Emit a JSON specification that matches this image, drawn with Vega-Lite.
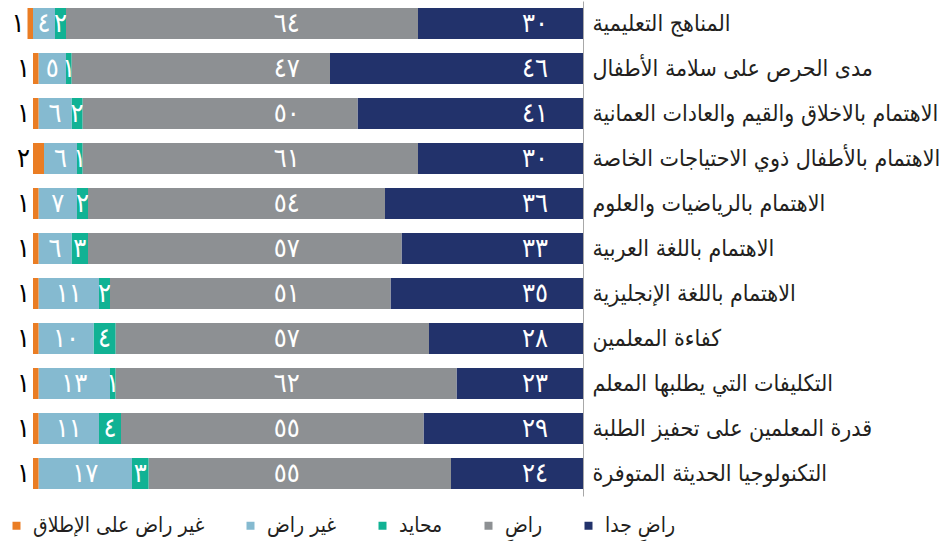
{
  "$schema": "https://vega.github.io/schema/vega-lite/v6.json",
  "width": 583,
  "height": 495,
  "autosize": "none",
  "padding": {"left": 0, "top": 1, "right": 364, "bottom": 45},
  "config": {
    "view": {"stroke": null},
    "font": "DejaVu Sans",
    "locale": {
      "number": {
        "decimal": "٫",
        "thousands": "٬",
        "grouping": [3],
        "currency": ["", ""],
        "numerals": ["٠", "١", "٢", "٣", "٤", "٥", "٦", "٧", "٨", "٩"]
      }
    }
  },
  "data": {
    "values": [
      {"cat": "المناهج التعليمية", "resp": "راضِ جدا", "rank": 0, "value": 30},
      {"cat": "المناهج التعليمية", "resp": "راضِ", "rank": 1, "value": 64},
      {"cat": "المناهج التعليمية", "resp": "محايد", "rank": 2, "value": 2},
      {"cat": "المناهج التعليمية", "resp": "غير راض", "rank": 3, "value": 4},
      {"cat": "المناهج التعليمية", "resp": "غير راض على الإطلاق", "rank": 4, "value": 1},
      {"cat": "مدى الحرص على سلامة الأطفال", "resp": "راضِ جدا", "rank": 0, "value": 46},
      {"cat": "مدى الحرص على سلامة الأطفال", "resp": "راضِ", "rank": 1, "value": 47},
      {"cat": "مدى الحرص على سلامة الأطفال", "resp": "محايد", "rank": 2, "value": 1},
      {"cat": "مدى الحرص على سلامة الأطفال", "resp": "غير راض", "rank": 3, "value": 5},
      {"cat": "مدى الحرص على سلامة الأطفال", "resp": "غير راض على الإطلاق", "rank": 4, "value": 1},
      {"cat": "الاهتمام بالاخلاق والقيم والعادات العمانية", "resp": "راضِ جدا", "rank": 0, "value": 41},
      {"cat": "الاهتمام بالاخلاق والقيم والعادات العمانية", "resp": "راضِ", "rank": 1, "value": 50},
      {"cat": "الاهتمام بالاخلاق والقيم والعادات العمانية", "resp": "محايد", "rank": 2, "value": 2},
      {"cat": "الاهتمام بالاخلاق والقيم والعادات العمانية", "resp": "غير راض", "rank": 3, "value": 6},
      {"cat": "الاهتمام بالاخلاق والقيم والعادات العمانية", "resp": "غير راض على الإطلاق", "rank": 4, "value": 1},
      {"cat": "الاهتمام بالأطفال ذوي الاحتياجات الخاصة", "resp": "راضِ جدا", "rank": 0, "value": 30},
      {"cat": "الاهتمام بالأطفال ذوي الاحتياجات الخاصة", "resp": "راضِ", "rank": 1, "value": 61},
      {"cat": "الاهتمام بالأطفال ذوي الاحتياجات الخاصة", "resp": "محايد", "rank": 2, "value": 1},
      {"cat": "الاهتمام بالأطفال ذوي الاحتياجات الخاصة", "resp": "غير راض", "rank": 3, "value": 6},
      {"cat": "الاهتمام بالأطفال ذوي الاحتياجات الخاصة", "resp": "غير راض على الإطلاق", "rank": 4, "value": 2},
      {"cat": "الاهتمام بالرياضيات والعلوم", "resp": "راضِ جدا", "rank": 0, "value": 36},
      {"cat": "الاهتمام بالرياضيات والعلوم", "resp": "راضِ", "rank": 1, "value": 54},
      {"cat": "الاهتمام بالرياضيات والعلوم", "resp": "محايد", "rank": 2, "value": 2},
      {"cat": "الاهتمام بالرياضيات والعلوم", "resp": "غير راض", "rank": 3, "value": 7},
      {"cat": "الاهتمام بالرياضيات والعلوم", "resp": "غير راض على الإطلاق", "rank": 4, "value": 1},
      {"cat": "الاهتمام باللغة العربية", "resp": "راضِ جدا", "rank": 0, "value": 33},
      {"cat": "الاهتمام باللغة العربية", "resp": "راضِ", "rank": 1, "value": 57},
      {"cat": "الاهتمام باللغة العربية", "resp": "محايد", "rank": 2, "value": 3},
      {"cat": "الاهتمام باللغة العربية", "resp": "غير راض", "rank": 3, "value": 6},
      {"cat": "الاهتمام باللغة العربية", "resp": "غير راض على الإطلاق", "rank": 4, "value": 1},
      {"cat": "الاهتمام باللغة الإنجليزية", "resp": "راضِ جدا", "rank": 0, "value": 35},
      {"cat": "الاهتمام باللغة الإنجليزية", "resp": "راضِ", "rank": 1, "value": 51},
      {"cat": "الاهتمام باللغة الإنجليزية", "resp": "محايد", "rank": 2, "value": 2},
      {"cat": "الاهتمام باللغة الإنجليزية", "resp": "غير راض", "rank": 3, "value": 11},
      {"cat": "الاهتمام باللغة الإنجليزية", "resp": "غير راض على الإطلاق", "rank": 4, "value": 1},
      {"cat": "كفاءة المعلمين", "resp": "راضِ جدا", "rank": 0, "value": 28},
      {"cat": "كفاءة المعلمين", "resp": "راضِ", "rank": 1, "value": 57},
      {"cat": "كفاءة المعلمين", "resp": "محايد", "rank": 2, "value": 4},
      {"cat": "كفاءة المعلمين", "resp": "غير راض", "rank": 3, "value": 10},
      {"cat": "كفاءة المعلمين", "resp": "غير راض على الإطلاق", "rank": 4, "value": 1},
      {"cat": "التكليفات التي يطلبها المعلم", "resp": "راضِ جدا", "rank": 0, "value": 23},
      {"cat": "التكليفات التي يطلبها المعلم", "resp": "راضِ", "rank": 1, "value": 62},
      {"cat": "التكليفات التي يطلبها المعلم", "resp": "محايد", "rank": 2, "value": 1},
      {"cat": "التكليفات التي يطلبها المعلم", "resp": "غير راض", "rank": 3, "value": 13},
      {"cat": "التكليفات التي يطلبها المعلم", "resp": "غير راض على الإطلاق", "rank": 4, "value": 1},
      {"cat": "قدرة المعلمين على تحفيز الطلبة", "resp": "راضِ جدا", "rank": 0, "value": 29},
      {"cat": "قدرة المعلمين على تحفيز الطلبة", "resp": "راضِ", "rank": 1, "value": 55},
      {"cat": "قدرة المعلمين على تحفيز الطلبة", "resp": "محايد", "rank": 2, "value": 4},
      {"cat": "قدرة المعلمين على تحفيز الطلبة", "resp": "غير راض", "rank": 3, "value": 11},
      {"cat": "قدرة المعلمين على تحفيز الطلبة", "resp": "غير راض على الإطلاق", "rank": 4, "value": 1},
      {"cat": "التكنولوجيا الحديثة المتوفرة", "resp": "راضِ جدا", "rank": 0, "value": 24},
      {"cat": "التكنولوجيا الحديثة المتوفرة", "resp": "راضِ", "rank": 1, "value": 55},
      {"cat": "التكنولوجيا الحديثة المتوفرة", "resp": "محايد", "rank": 2, "value": 3},
      {"cat": "التكنولوجيا الحديثة المتوفرة", "resp": "غير راض", "rank": 3, "value": 17},
      {"cat": "التكنولوجيا الحديثة المتوفرة", "resp": "غير راض على الإطلاق", "rank": 4, "value": 1}
    ]
  },
  "transform": [
    {"stack": "value", "groupby": ["cat"], "sort": [{"field": "rank", "order": "ascending"}], "as": ["v0", "v1"]}
  ],
  "encoding": {
    "y": {
      "field": "cat",
      "type": "nominal",
      "sort": ["المناهج التعليمية", "مدى الحرص على سلامة الأطفال", "الاهتمام بالاخلاق والقيم والعادات العمانية", "الاهتمام بالأطفال ذوي الاحتياجات الخاصة", "الاهتمام بالرياضيات والعلوم", "الاهتمام باللغة العربية", "الاهتمام باللغة الإنجليزية", "كفاءة المعلمين", "التكليفات التي يطلبها المعلم", "قدرة المعلمين على تحفيز الطلبة", "التكنولوجيا الحديثة المتوفرة"],
      "scale": {"paddingInner": 0.31, "paddingOuter": 0.155},
      "axis": {
        "orient": "right",
        "title": null,
        "ticks": false,
        "domain": true,
        "domainColor": "#a8a8a8",
        "domainWidth": 1,
        "labelAlign": "left",
        "labelPadding": 9,
        "labelFontSize": 23,
        "labelFont": "DejaVu Sans Condensed, DejaVu Sans",
        "labelColor": "#231f20",
        "labelLimit": 400
      }
    }
  },
  "layer": [
    {
      "mark": {"type": "bar"},
      "encoding": {
        "x": {"field": "v0", "type": "quantitative", "scale": {"domain": [0, 106], "reverse": true, "nice": false, "zero": true}, "axis": null},
        "x2": {"field": "v1"},
        "color": {
          "field": "resp",
          "type": "nominal",
          "scale": {
            "domain": ["غير راض على الإطلاق", "غير راض", "محايد", "راضِ", "راضِ جدا"],
            "range": ["#ea7d24", "#85bad0", "#11b294", "#8d9093", "#22326b"]
          },
          "legend": {
            "title": null,
            "orient": "none",
            "legendX": 6,
            "legendY": 514,
            "direction": "horizontal",
            "symbolType": "square",
            "symbolSize": 64,
            "symbolStrokeWidth": 0,
            "labelFontSize": 21,
            "labelFont": "DejaVu Sans Condensed, DejaVu Sans",
            "labelColor": "#231f20",
            "labelOffset": 6,
            "columnPadding": 35,
            "labelLimit": 300
          }
        }
      }
    },
    {
      "transform": [{"filter": "datum.rank == 0"}],
      "mark": {"type": "text", "align": "right", "dx": -35, "fontSize": 27, "font": "DejaVu Sans Condensed, DejaVu Sans", "color": "white"},
      "encoding": {
        "x": {"field": "v0", "type": "quantitative"},
        "text": {"field": "value", "type": "quantitative", "format": "d"}
      }
    },
    {
      "transform": [{"filter": "datum.rank == 1"}],
      "mark": {"type": "text", "align": "right", "fontSize": 27, "font": "DejaVu Sans Condensed, DejaVu Sans", "color": "white"},
      "encoding": {
        "x": {"datum": 51.5, "type": "quantitative"},
        "text": {"field": "value", "type": "quantitative", "format": "d"}
      }
    },
    {
      "transform": [
        {"filter": "datum.rank == 2 || datum.rank == 3"},
        {"fold": ["v0", "v1"], "as": ["k", "pos"]},
        {"aggregate": [{"op": "mean", "field": "pos", "as": "mid"}], "groupby": ["cat", "rank", "value"]}
      ],
      "mark": {"type": "text", "align": "center", "fontSize": 27, "font": "DejaVu Sans Condensed, DejaVu Sans", "color": "white"},
      "encoding": {
        "x": {"field": "mid", "type": "quantitative"},
        "text": {"field": "value", "type": "quantitative", "format": "d"}
      }
    },
    {
      "transform": [{"filter": "datum.rank == 4"}],
      "mark": {"type": "text", "align": "right", "dx": -3, "fontSize": 27, "font": "DejaVu Sans Condensed, DejaVu Sans", "color": "black"},
      "encoding": {
        "x": {"field": "v1", "type": "quantitative"},
        "text": {"field": "value", "type": "quantitative", "format": "d"}
      }
    }
  ]
}
